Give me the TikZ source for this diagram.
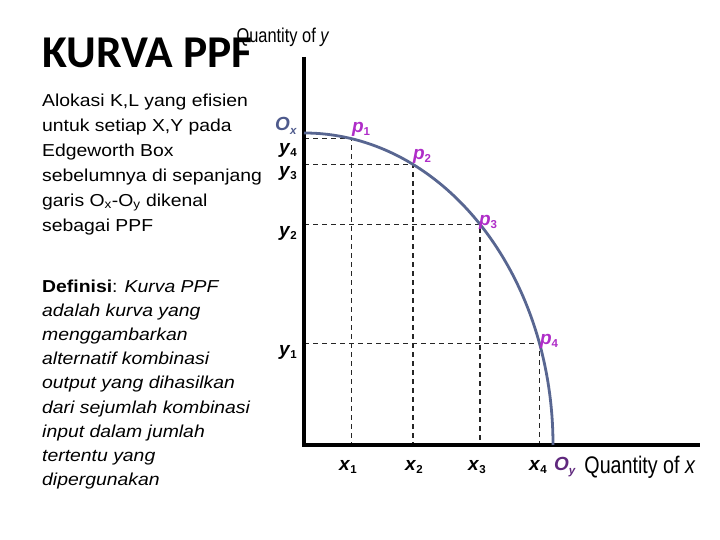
\documentclass[tikz,border=0pt]{standalone}
\usepackage{fontspec}
\setmainfont{Liberation Sans}
\newfontfamily\titlefont{Carlito}
\newfontfamily\bodyfont[FakeStretch=1.12]{Liberation Sans}
\newfontfamily\axisfont[FakeStretch=0.82]{Liberation Sans}
\usetikzlibrary{positioning}
\definecolor{curveblue}{RGB}{88,102,145}
\definecolor{oxblue}{RGB}{78,90,140}
\definecolor{pviolet}{RGB}{175,45,200}
\definecolor{oypurple}{RGB}{95,40,125}
\newcommand{\glab}[2]{\textbf{\textit{#1}}\raisebox{-0.35ex}{\bfseries\fontsize{11.5}{11.5}\selectfont #2}}

\begin{document}
\begin{tikzpicture}[x=1pt,y=1pt,
	axis/.style={line width=3.2pt,line join=miter},
	ppf/.style={curveblue,line width=2.8pt},
	guide/.style={black!85,dash pattern=on 5pt off 4pt,line width=1.5pt},
	lab/.style={anchor=center,inner sep=0pt,font=\fontsize{19}{19}\selectfont},
	plab/.style={lab,pviolet},
	para/.style={anchor=north west,inner sep=0pt,align=left}]
	\useasboundingbox (0,0) rectangle (720,540);
	%% graph
	\coordinate (o) at (304,95);
	\coordinate[above right=388 and 0 of o] (ytop);
	\coordinate[above right=0 and 396 of o] (xend);
	\coordinate[above right=312 and 0 of o] (ox);
	\coordinate[above right=0 and 249 of o] (oy);
	\coordinate[above right=306.3 and 47.5 of o] (p1);
	\coordinate[above right=280.4 and 109.2 of o] (p2);
	\coordinate[above right=220.6 and 176.1 of o] (p3);
	\coordinate[above right=101.6 and 235.4 of o] (p4);
	% garis putus-putus
	\draw[guide] (o |- p1) -- (p1) -- (p1 |- o);
	\draw[guide] (o |- p2) -- (p2) -- (p2 |- o);
	\draw[guide] (o |- p3) -- (p3) -- (p3 |- o);
	\draw[guide] (o |- p4) -- (p4) -- (p4 |- o);
	\draw[axis] (ytop) -- (o) -- (xend);
	\draw[ppf] (ox) arc[start angle=90,end angle=0,x radius=249,y radius=312];
	% label
	\node[above right=319 and -18 of o,lab,oxblue] (oxlab) {\glab{O}{\textit{x}}};
	\node[above right=-22 and 261 of o,lab,oypurple] (oylab) {\glab{O}{\textit{y}}};
	\node[above right=316 and 57 of o,plab] (p1lab) {\glab{p}{1}};
	\node[above right=289 and 118 of o,plab] (p2lab) {\glab{p}{2}};
	\node[above right=223 and 184 of o,plab] (p3lab) {\glab{p}{3}};
	\node[above right=104 and 245 of o,plab] (p4lab) {\glab{p}{4}};
	\node[above right=295 and -16 of o,lab] (y4lab) {\glab{y}{4}};
	\node[above right=272 and -16 of o,lab] (y3lab) {\glab{y}{3}};
	\node[above right=212 and -16 of o,lab] (y2lab) {\glab{y}{2}};
	\node[above right=93 and -16 of o,lab] (y1lab) {\glab{y}{1}};
	\node[above right=-22 and 44 of o,lab] (x1lab) {\glab{x}{1}};
	\node[above right=-22 and 110 of o,lab] (x2lab) {\glab{x}{2}};
	\node[above right=-22 and 173 of o,lab] (x3lab) {\glab{x}{3}};
	\node[above right=-22 and 234 of o,lab] (x4lab) {\glab{x}{4}};
	\node[above right=-22 and 336 of o,anchor=center,inner sep=0pt,font=\axisfont\fontsize{24}{24}\selectfont] (qx) {Quantity of \textit{x}};
	\node[above right=408 and -21 of o,anchor=center,inner sep=0pt,font=\axisfont\fontsize{20}{20}\selectfont] (qy) {Quantity of \textit{y}};
	%% teks kiri
	\node[anchor=base west,inner sep=0pt,font=\titlefont\bfseries\fontsize{45.5}{45.5}\selectfont] (judul) at (42,472) {KURVA PPF};
	\node[para,font=\bodyfont\fontsize{17.3}{25}\selectfont] (alokasi) at (42,446.7) {Alokasi K,L yang efisien\\
		untuk setiap X,Y pada\\
		Edgeworth Box\\
		sebelumnya di sepanjang\\
		garis O\textsubscript{x}-O\textsubscript{y} dikenal\\
		sebagai PPF};
	\node[para,font=\bodyfont\fontsize{17.3}{24.2}\selectfont] (definisi) at (42,260.7) {\textbf{Definisi}:  \textit{Kurva PPF}\\
		\textit{adalah kurva yang}\\
		\textit{menggambarkan}\\
		\textit{alternatif kombinasi}\\
		\textit{output yang  dihasilkan}\\
		\textit{dari sejumlah kombinasi}\\
		\textit{input dalam jumlah}\\
		\textit{tertentu yang}\\
		\textit{dipergunakan}};
\end{tikzpicture}
\end{document}
